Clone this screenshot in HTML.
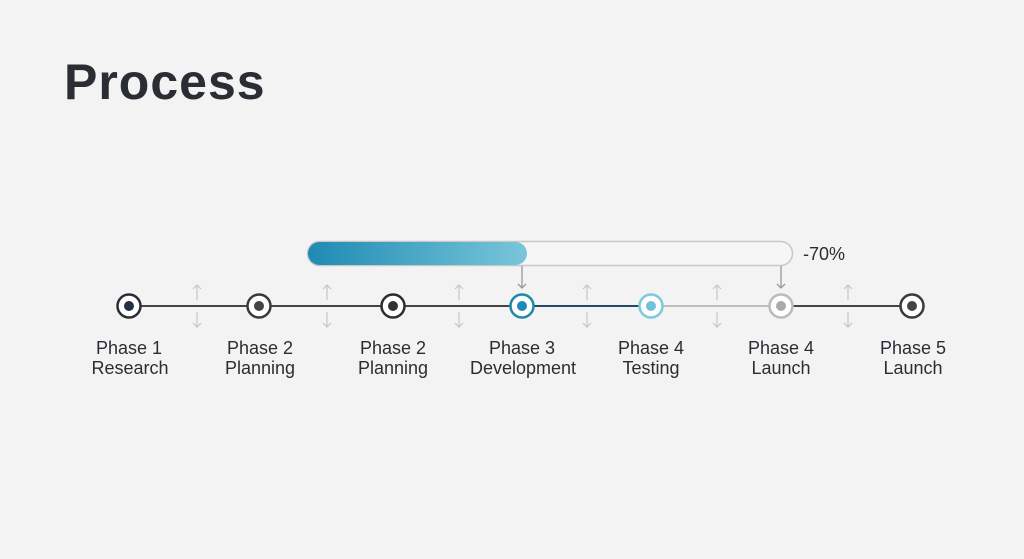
<!DOCTYPE html>
<html><head><meta charset="utf-8"><style>
html,body{margin:0;padding:0;}
body{width:1024px;height:559px;background:#f3f3f3;font-family:"Liberation Sans",sans-serif;overflow:hidden;position:relative;}
</style></head><body>
<svg width="1024" height="559" viewBox="0 0 1024 559" xmlns="http://www.w3.org/2000/svg" style="position:absolute;left:0;top:0">
<defs>
<linearGradient id="g" x1="0" x2="1">
<stop offset="0" stop-color="#1f8ab3"/><stop offset="1" stop-color="#79c6da"/>
</linearGradient>
</defs>
<text x="64" y="99" font-family="Liberation Sans" font-weight="bold" font-size="50" letter-spacing="1" fill="#2a2d33">Process</text>
<rect x="307.5" y="241.5" width="485" height="24" rx="12" fill="#f6f6f6" stroke="#c8c8c8" stroke-width="1.5"/>
<rect x="308" y="242" width="219" height="23" rx="11.5" fill="url(#g)"/>
<text x="803" y="260" font-size="18" fill="#2a2d33">-70%</text>
<g stroke="#999" stroke-width="1.3" fill="none">
<path d="M522 266V288M518 284L522 288L526 284"/>
<path d="M781 266V288M777 284L781 288L785 284"/>
</g>
<g stroke="#444" stroke-width="2">
<line x1="129" y1="306" x2="522" y2="306"/>
<line x1="781" y1="306" x2="912" y2="306"/>
</g>
<line x1="522" y1="306" x2="651" y2="306" stroke="#244a66" stroke-width="2"/>
<line x1="651" y1="306" x2="781" y2="306" stroke="#bdbdbd" stroke-width="2"/>
<g stroke="#c5c5c5" stroke-width="1.2" fill="none">
<g id="a"><path d="M197 300V285M193 289L197 285L201 289"/><path d="M197 312V327M193 323L197 327L201 323"/></g>
<use href="#a" x="130"/><use href="#a" x="262"/><use href="#a" x="390"/><use href="#a" x="520"/><use href="#a" x="651"/>
</g>
<g stroke-width="2.5" fill="#fff">
<circle cx="129" cy="306" r="11.5" stroke="#2a2d33"/>
<circle cx="259" cy="306" r="11.5" stroke="#3a3a3c"/>
<circle cx="393" cy="306" r="11.5" stroke="#2a2d33"/>
<circle cx="522" cy="306" r="11.5" stroke="#1e8aa8"/>
<circle cx="651" cy="306" r="11.5" stroke="#7cc9dc"/>
<circle cx="781" cy="306" r="11.5" stroke="#bbb"/>
<circle cx="912" cy="306" r="11.5" stroke="#3a3a3c"/>
</g>
<circle cx="129" cy="306" r="5" fill="#24304a"/>
<circle cx="259" cy="306" r="5" fill="#444"/>
<circle cx="393" cy="306" r="5" fill="#333"/>
<circle cx="522" cy="306" r="5" fill="#1e8ab8"/>
<circle cx="651" cy="306" r="5" fill="#72c0da"/>
<circle cx="781" cy="306" r="5" fill="#aaa"/>
<circle cx="912" cy="306" r="5" fill="#444"/>
<g font-size="18" fill="#2a2d33" text-anchor="middle">
<text x="129" y="354">Phase 1</text><text x="130" y="374">Research</text>
<text x="260" y="354">Phase 2</text><text x="260" y="374">Planning</text>
<text x="393" y="354">Phase 2</text><text x="393" y="374">Planning</text>
<text x="522" y="354">Phase 3</text><text x="523" y="374">Development</text>
<text x="651" y="354">Phase 4</text><text x="651" y="374">Testing</text>
<text x="781" y="354">Phase 4</text><text x="781" y="374">Launch</text>
<text x="913" y="354">Phase 5</text><text x="913" y="374">Launch</text>
</g>
</svg>
</body></html>
